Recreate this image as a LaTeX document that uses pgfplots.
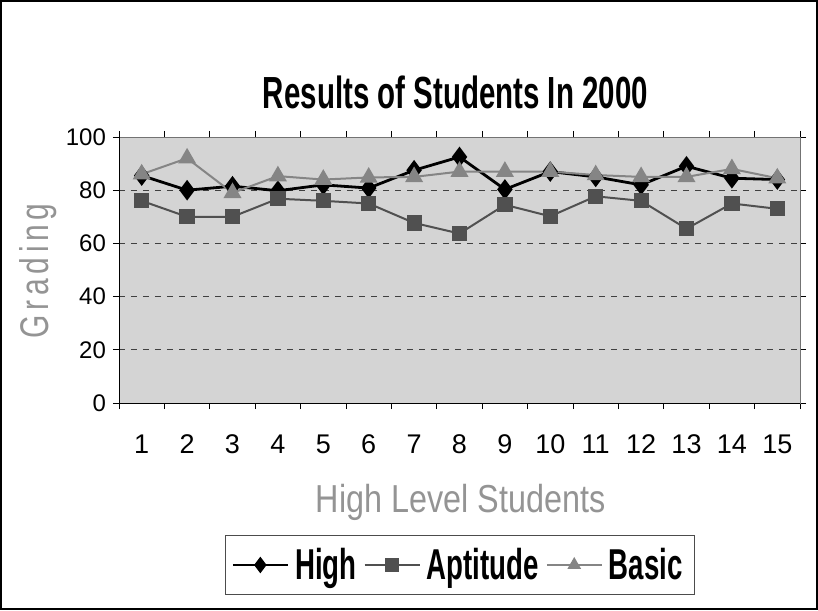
\documentclass[border=0pt]{standalone}
\usepackage{fontspec}
\setmainfont{Liberation Sans}
\newfontfamily\titlefont{Liberation Sans}[FakeStretch=0.655]
\newfontfamily\legfont{Liberation Sans}[FakeStretch=0.64]
\newfontfamily\xlabfont{Liberation Sans}[FakeStretch=0.83]
\newfontfamily\ylabfont{Liberation Sans}[FakeStretch=0.75, LetterSpace=12]
\usepackage{pgfplots}
\pgfplotsset{compat=1.18}
\definecolor{apt}{HTML}{505050}
\definecolor{bas}{HTML}{858585}
\begin{document}
\begin{tikzpicture}
\useasboundingbox (-59.5pt,-103.5pt) rectangle (349.5pt,201.5pt);
\draw[black, line width=1pt] (-59pt,-103pt) rectangle (349pt,201pt);
\begin{axis}[
  at={(0pt,0pt)}, anchor=south west,
  scale only axis, width=340.5pt, height=133pt,
  xmin=0.5, xmax=15.5, ymin=0, ymax=100,
  xtick={1,...,15},
  minor xtick={0.5,1.5,...,15.5},
  major x tick style={draw=none},
  ytick={0,20,...,100},
  tick align=outside,
  major tick length=3pt, minor tick length=3pt,
  tick style={black, thin},
  ymajorgrids,
  major grid style={dashed, black!75, thin},
  axis line style={black!55},
  axis background/.style={fill=black!17},
  /pgf/number format/assume math mode=true,
  yticklabel style={font=\fontsize{12}{14}\selectfont},
  xticklabel style={font=\fontsize{13.5}{15}\selectfont, anchor=base, yshift=-22pt},
  title={Results of Students In 2000},
  title style={at={(axis description cs:0.494,1)}, anchor=base, yshift=8pt, font=\fontsize{22.5}{26}\titlefont\bfseries},
  xlabel={High Level Students},
  xlabel style={at={(axis description cs:0.5015,-0.4135)}, anchor=base, font=\fontsize{19.5}{22}\xlabfont, text=black!42},
  ylabel={Grading},
  ylabel style={at={(axis description cs:-0.119,0.496)}, anchor=center, font=\fontsize{20}{22}\ylabfont, text=black!42},
  legend columns=3,
  legend style={at={(axis description cs:0.5007,-0.609)}, anchor=center, draw=black!70, fill=white,
    font=\fontsize{21.6}{24}\legfont\bfseries, inner xsep=3pt, inner ysep=3.3pt,
    nodes={inner xsep=3pt, inner ysep=3pt},
    /tikz/every even column/.append style={column sep=0.5pt}},
  legend image code/.code={\draw[#1] (0pt,0pt) -- (27.5pt,0pt); \path[#1, mark size=3pt] plot coordinates {(13.75pt,0pt)};},
]
\addplot[black, line width=1.4pt, mark=diamond*, mark size=4pt, mark options={solid, fill=black, draw=black}] coordinates {
(1,85.5) (2,80) (3,81.5) (4,79.8) (5,82) (6,80.8) (7,87.5) (8,92.5) (9,80.3) (10,87) (11,85) (12,82) (13,89) (14,84.5) (15,84)};
\addlegendentry{High}
\addplot[apt, line width=1pt, mark=square*, mark size=3.3pt, mark options={solid, fill=apt, draw=apt}] coordinates {
(1,76) (2,70) (3,70) (4,76.8) (5,76) (6,75) (7,67.7) (8,63.7) (9,74.5) (10,70.2) (11,77.7) (12,76) (13,65.5) (14,75) (15,73)};
\addlegendentry{Aptitude}
\addplot[bas, line width=1pt, mark=triangle*, mark size=4.2pt, mark options={solid, fill=bas, draw=bas}] coordinates {
(1,86) (2,92) (3,79) (4,85.3) (5,84) (6,84.8) (7,85) (8,87) (9,87) (10,87) (11,85.7) (12,85) (13,85) (14,88) (15,84.5)};
\addlegendentry{Basic}
\draw[black, thin] (rel axis cs:0,1) -- (rel axis cs:0,0) -- (rel axis cs:1,0);
\end{axis}
\end{tikzpicture}
\end{document}
